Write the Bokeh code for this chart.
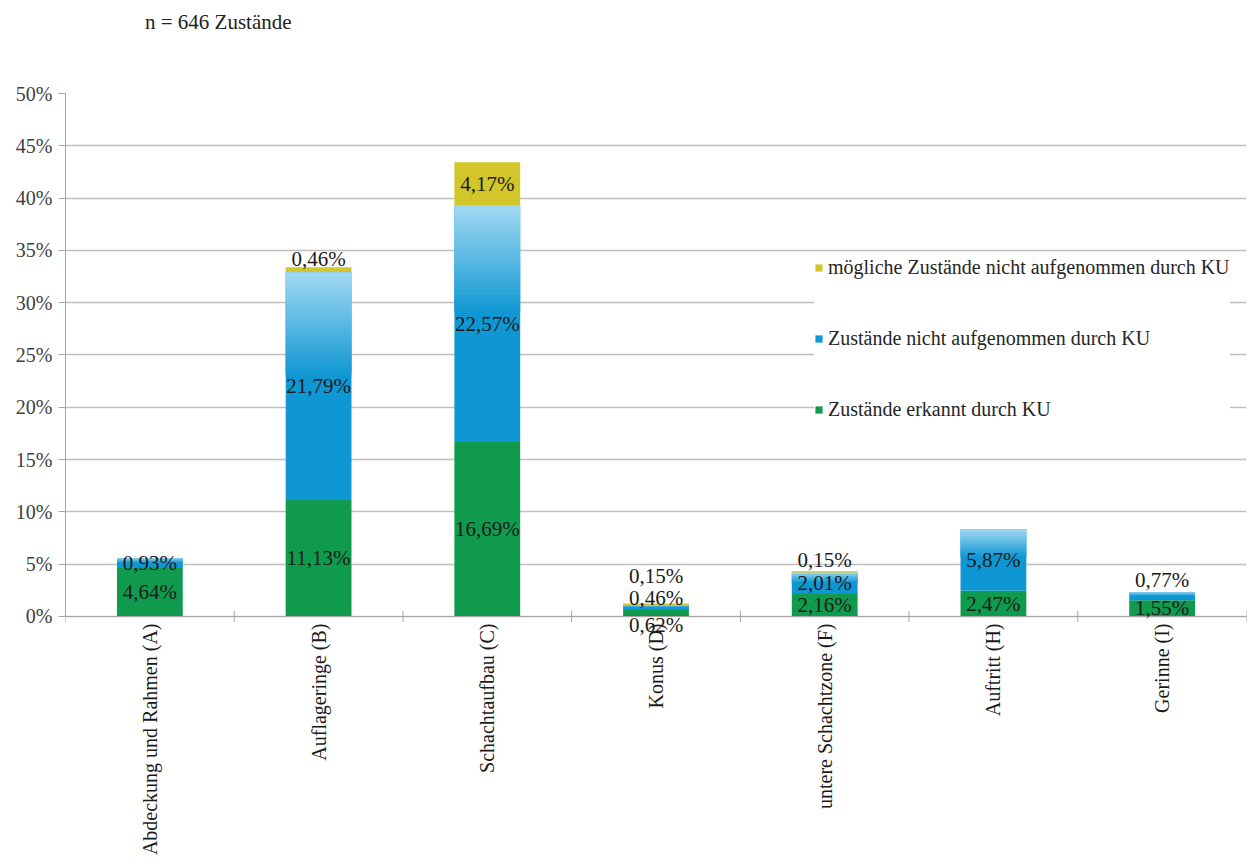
import math
from bokeh.plotting import figure
from bokeh.models import (ColumnDataSource, FixedTicker, PrintfTickFormatter, Legend,
                          LegendItem, Div, Range1d, LabelSet, Span)
from bokeh.layouts import column
from bokeh.embed import file_html
from bokeh.resources import INLINE

# ---------------- data ----------------
categories = ["Abdeckung und Rahmen (A)", "Auflageringe (B)", "Schachtaufbau (C)",
              "Konus (D)", "untere Schachtzone (F)", "Auftritt (H)", "Gerinne (I)"]
erkannt = [4.64, 11.13, 16.69, 0.62, 2.16, 2.47, 1.55]      # Zustände erkannt durch KU
nicht = [0.93, 21.79, 22.57, 0.46, 2.01, 5.87, 0.77]        # Zustände nicht aufgenommen durch KU
moeglich = [0.0, 0.46, 4.17, 0.15, 0.15, 0.0, 0.0]          # mögliche Zustände nicht aufgenommen
y_ticks = [0, 5, 10, 15, 20, 25, 30, 35, 40, 45, 50]
title_text = "n = 646 Zustände"
legend_labels = ["mögliche Zustände nicht aufgenommen durch KU",
                 "Zustände nicht aufgenommen durch KU",
                 "Zustände erkannt durch KU"]

# ---------------- style ----------------
FONT = "Liberation Serif"
GREEN = "#0f9a4d"
BLUE = "#0e97d2"
BLUE_LIGHT = (160, 216, 242)
YELLOW = "#d2c62a"
AXIS_GREY = "#a6a6a6"
BAR_W = 0.39
Y_PAD = 2.2     # extra room below 0 % so the label under "Konus" stays visible
# manual pixel shifts (upwards) of some data labels (as in the original)
label_shift = {("m", 1): 11, ("m", 3): 28, ("n", 3): 10, ("e", 3): -12,
               ("m", 4): 12, ("n", 6): 16}

n = len(categories)
xc = [i + 0.5 for i in range(n)]
b_nicht = erkannt[:]
t_nicht = [erkannt[i] + nicht[i] for i in range(n)]
t_moeg = [t_nicht[i] + moeglich[i] for i in range(n)]

src = ColumnDataSource(dict(x=xc, e=erkannt, bn=b_nicht, tn=t_nicht, tm=t_moeg))

p = figure(width=1252, height=815, output_backend="svg", toolbar_location=None,
           x_range=Range1d(0, n), y_range=Range1d(-Y_PAD, 50),
           min_border_left=65, min_border_right=6, min_border_top=45, min_border_bottom=224)
p.outline_line_color = None
p.background_fill_color = "white"

r_e = p.vbar(x="x", width=BAR_W, bottom=0, top="e", source=src, fill_color=GREEN, line_color=None)
r_n = p.vbar(x="x", width=BAR_W, bottom="bn", top="tn", source=src, fill_color=BLUE, line_color=None)
r_m = p.vbar(x="x", width=BAR_W, bottom="tn", top="tm", source=src, fill_color=YELLOW, line_color=None)

# gradient on the upper part of the blue segment
gx, gb, gt, gc = [], [], [], []
steps = 24
br, bgc, bb = int(BLUE[1:3], 16), int(BLUE[3:5], 16), int(BLUE[5:7], 16)
for i in range(n):
    if nicht[i] <= 0:
        continue
    start = b_nicht[i] + 0.55 * nicht[i]
    h = (t_nicht[i] - start) / steps
    for k in range(steps):
        f = (k + 1) / steps
        col = "#%02x%02x%02x" % (int(br + (BLUE_LIGHT[0] - br) * f),
                                 int(bgc + (BLUE_LIGHT[1] - bgc) * f),
                                 int(bb + (BLUE_LIGHT[2] - bb) * f))
        gx.append(xc[i]); gb.append(start + k * h)
        gt.append(min(start + (k + 1.6) * h, t_nicht[i])); gc.append(col)
p.vbar(x=gx, width=BAR_W, bottom=gb, top=gt, fill_color=gc, line_color=None)

# category axis line at 0 % and category boundary ticks
p.add_layout(Span(location=0, dimension="width", line_color=AXIS_GREY, line_width=1.2))
p.scatter(x=list(range(n + 1)), y=[0] * (n + 1), marker="dash", angle=math.pi / 2, size=11,
          line_color=AXIS_GREY, line_width=1)

# data labels
lx, ly, lt, lo = [], [], [], []
for key, vals, bots in (("e", erkannt, [0] * n), ("n", nicht, b_nicht), ("m", moeglich, t_nicht)):
    for i in range(n):
        if vals[i] > 0:
            lx.append(xc[i]); ly.append(bots[i] + vals[i] / 2)
            lt.append(("%.2f" % vals[i]).replace(".", ",") + "%")
            lo.append(label_shift.get((key, i), 0))
lsrc = ColumnDataSource(dict(x=lx, y=ly, t=lt, o=lo))
labels = LabelSet(x="x", y="y", text="t", y_offset="o", source=lsrc,
                  text_font=FONT, text_font_size="21px", text_color="#1a1a1a",
                  text_align="center", text_baseline="middle")
p.add_layout(labels)

# axes
ya = p.yaxis[0]
ya.ticker = FixedTicker(ticks=y_ticks)
ya.formatter = PrintfTickFormatter(format="%d%%")
ya.bounds = (0, 50)
ya.major_label_text_font = FONT
ya.major_label_text_font_size = "20px"
ya.major_label_text_color = "#404040"
ya.axis_line_color = AXIS_GREY
ya.major_tick_line_color = AXIS_GREY
ya.major_tick_out = 7
ya.major_tick_in = 0
ya.minor_tick_line_color = None
ya.major_label_standoff = 6

xa = p.xaxis[0]
xa.ticker = FixedTicker(ticks=xc)
xa.major_label_overrides = {xc[i]: categories[i] for i in range(n)}
xa.major_label_orientation = math.pi / 2
xa.major_label_text_font = FONT
xa.major_label_text_font_size = "20px"
xa.major_label_text_color = "#1a1a1a"
xa.axis_line_color = None
xa.major_tick_line_color = None
xa.minor_tick_line_color = None
xa.major_tick_out = 0
xa.major_tick_in = 0
xa.major_label_standoff = -16

p.xgrid.grid_line_color = None
p.ygrid.ticker = FixedTicker(ticks=y_ticks)
p.ygrid.grid_line_color = "#bfbfbf"
p.ygrid.grid_line_width = 1.5

legend = Legend(items=[LegendItem(label=legend_labels[0], renderers=[r_m]),
                       LegendItem(label=legend_labels[1], renderers=[r_n]),
                       LegendItem(label=legend_labels[2], renderers=[r_e])],
                location=(749, 218), orientation="vertical")
legend.label_text_font = FONT
legend.label_text_font_size = "20px"
legend.label_text_color = "#262626"
legend.glyph_width = 9
legend.glyph_height = 9
legend.label_height = 24
legend.label_standoff = 5
legend.spacing = 47
legend.padding = 8
legend.margin = 0
legend.border_line_color = None
legend.background_fill_color = "white"
legend.background_fill_alpha = 1.0
p.add_layout(legend, "center")

title = Div(text=title_text, width=1252, height=48, margin=0,
            styles={"font-family": FONT, "font-size": "21px", "color": "#222222",
                    "padding-left": "145px", "padding-top": "10px", "line-height": "24px"})

layout = column(title, p, spacing=0)
open("out.html", "w").write(file_html(layout, INLINE))
